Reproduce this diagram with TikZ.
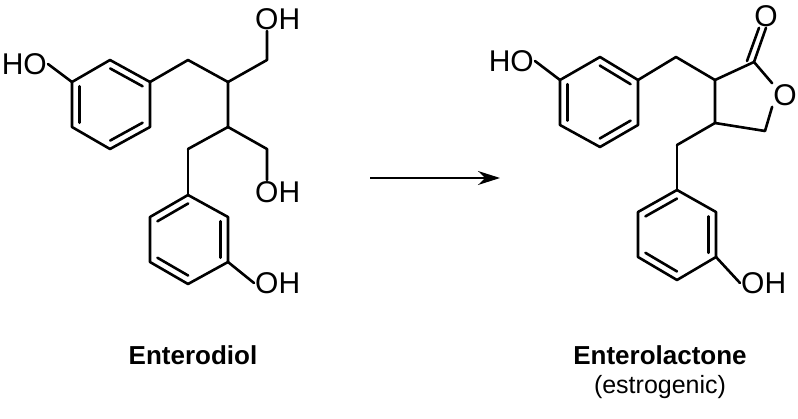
\documentclass[tikz,border=0pt]{standalone}
\usepackage{fontspec}
\setmainfont{Liberation Sans}
\usetikzlibrary{calc,arrows.meta}
\tikzset{
	bond/.style={line width=2.6pt, line cap=round, line join=round},
	atom/.style={font=\fontsize{30}{32}\selectfont, inner sep=1pt},
	title/.style={font=\fontsize{26}{30}\selectfont\bfseries},
}
\newcommand{\innerbond}[3]{\draw[bond] ($(#1)!0.19!(#3)$) -- ($(#2)!0.19!(#3)$);}
\begin{document}
\begin{tikzpicture}[x=1pt,y=-1pt]
	\useasboundingbox (0,0) rectangle (798,418);
	% enterodiol, upper ring
	\coordinate (a1) at (72,82);  \coordinate (a2) at (110,60);
	\coordinate (a3) at (150,82); \coordinate (a4) at (150,127);
	\coordinate (a5) at (110,149);\coordinate (a6) at (72,127);
	\coordinate (ac) at (111,104.5);
	\draw[bond] (a1) -- (a2) -- (a3) -- (a4) -- (a5) -- (a6) -- cycle;
	\innerbond{a2}{a3}{ac} \innerbond{a1}{a6}{ac} \innerbond{a4}{a5}{ac}
	\node[atom, anchor=east] (ho1) at (48,64) {HO};
	\draw[bond] (a1) -- (ho1.east);
	% chain
	\coordinate (c1) at (188,60);  \coordinate (c2) at (228,82);
	\coordinate (c3) at (267,60);  \coordinate (c4) at (228,127);
	\coordinate (c5) at (267,149); \coordinate (c6) at (188,149);
	\node[atom, anchor=south west] (oh1) at (254,31) {OH};
	\node[atom, anchor=north west] (oh2) at (254,180) {OH};
	\draw[bond] (a3) -- (c1) -- (c2) -- (c3) -- (c3 |- oh1.south);
	\draw[bond] (c2) -- (c4) -- (c5) -- (c5 |- oh2.north);
	\draw[bond] (c4) -- (c6);
	% enterodiol, lower ring
	\coordinate (b1) at (188,195); \coordinate (b2) at (228,217);
	\coordinate (b3) at (228,262); \coordinate (b4) at (188,284);
	\coordinate (b5) at (150,262); \coordinate (b6) at (150,217);
	\coordinate (bc) at (189,239.5);
	\draw[bond] (c6) -- (b1);
	\draw[bond] (b1) -- (b2) -- (b3) -- (b4) -- (b5) -- (b6) -- cycle;
	\innerbond{b6}{b1}{bc} \innerbond{b2}{b3}{bc} \innerbond{b5}{b4}{bc}
	\node[atom, anchor=west] (oh3) at (254,283) {OH};
	\draw[bond] (b3) -- (oh3.west);
	% arrow
	\coordinate (r0) at (370,178); \coordinate (r1) at (500,178);
	\draw[line width=1.3pt, -{Stealth[length=22pt,width=14pt]}] (r0) -- (r1);
	% enterolactone, upper ring
	\coordinate (d1) at (560,80);  \coordinate (d2) at (600,57);
	\coordinate (d3) at (638,80);  \coordinate (d4) at (638,125);
	\coordinate (d5) at (600,147); \coordinate (d6) at (560,125);
	\coordinate (dc) at (599,102);
	\draw[bond] (d1) -- (d2) -- (d3) -- (d4) -- (d5) -- (d6) -- cycle;
	\innerbond{d2}{d3}{dc} \innerbond{d1}{d6}{dc} \innerbond{d4}{d5}{dc}
	\node[atom, anchor=east] (ho2) at (535,61) {HO};
	\draw[bond] (d1) -- (ho2.east);
	% lactone ring
	\coordinate (l1) at (676,57);  \coordinate (l2) at (715,80);
	\coordinate (l3) at (754,62);  \coordinate (l5) at (765,131);
	\coordinate (l4) at (715,123); \coordinate (l6) at (677,145);
	\node[atom] (ok) at (766,16) {O};
	\node[atom] (or) at (785,95) {O};
	\draw[bond] (d3) -- (l1) -- (l2) -- (l3) -- (or.north west);
	\draw[bond] (or.south west) -- (l5) -- (l4) -- (l2);
	\draw[bond] (l3) -- (ok.south);
	\draw[bond] ($(l3)+(-7,-1)$) -- ($(ok.south)+(-7,0)$);
	\draw[bond] (l4) -- (l6);
	% enterolactone, lower ring
	\coordinate (e1) at (677,190); \coordinate (e2) at (716,212);
	\coordinate (e3) at (716,257); \coordinate (e4) at (677,280);
	\coordinate (e5) at (638,257); \coordinate (e6) at (638,212);
	\coordinate (ec) at (677,235);
	\draw[bond] (l6) -- (e1);
	\draw[bond] (e1) -- (e2) -- (e3) -- (e4) -- (e5) -- (e6) -- cycle;
	\innerbond{e6}{e1}{ec} \innerbond{e2}{e3}{ec} \innerbond{e5}{e4}{ec}
	\node[atom, anchor=west] (oh4) at (740,283) {OH};
	\draw[bond] (e3) -- (oh4.west);
	% names
	\node[title] (n1) at (193,355) {Enterodiol};
	\node[title] (n2) at (660,355) {Enterolactone};
	\node[font=\fontsize{25}{28}\selectfont, below=4pt] (n3) at (n2.south) {(estrogenic)};
\end{tikzpicture}
\end{document}
